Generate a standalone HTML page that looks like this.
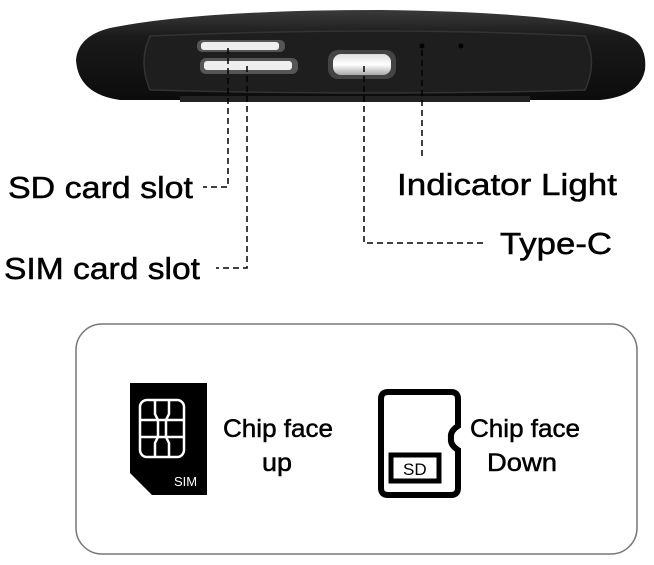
<!DOCTYPE html>
<html><head><meta charset="utf-8"><style>
html,body{margin:0;padding:0;background:#fff;}
svg{display:block;}
text{font-family:"Liberation Sans",sans-serif;fill:#000;stroke:#000;stroke-width:0.5;}
</style></head><body>
<svg width="654" height="565" viewBox="0 0 654 565" xmlns="http://www.w3.org/2000/svg">
<defs>
<linearGradient id="body" x1="0" y1="0" x2="0" y2="1">
<stop offset="0" stop-color="#3a3a3a"/><stop offset="0.3" stop-color="#1a1a1a"/><stop offset="1" stop-color="#0c0c0c"/>
</linearGradient>
<linearGradient id="usb" x1="0" y1="0" x2="0" y2="1">
<stop offset="0" stop-color="#ddd"/><stop offset="0.5" stop-color="#fff"/><stop offset="1" stop-color="#aaa"/>
</linearGradient>
</defs>
<path d="M120 100 L600 100 Q640 96 645 70 Q648 40 620 32 Q560 12 380 10 Q200 10 110 28 Q78 36 76 60 Q78 94 120 100 Z" fill="url(#body)"/>
<rect x="180" y="96" width="350" height="6" fill="#222"/>
<path d="M150 36 Q380 26 585 36 Q598 62 585 90 Q380 96 150 90 Q138 62 150 36 Z" fill="#1e1e1e" stroke="#333" stroke-width="1.5"/>
<rect x="197" y="40" width="88" height="12" rx="5" fill="#555"/>
<rect x="201" y="42" width="78" height="8" rx="3" fill="#eee"/>
<rect x="200" y="58" width="98" height="16" rx="6" fill="#555"/>
<rect x="204" y="61" width="88" height="9" rx="3" fill="#eee"/>
<rect x="328" y="50" width="68" height="29" rx="10" fill="#444"/>
<rect x="333" y="54" width="58" height="21" rx="8" fill="url(#usb)"/>
<circle cx="422" cy="46" r="2.5" fill="#000"/>
<circle cx="461" cy="46" r="2.5" fill="#000"/>
<g stroke="#000" stroke-width="1.5" stroke-dasharray="6,4" fill="none">
<path d="M228 48 V187 H203"/>
<path d="M247 66 V268 H216"/>
<path d="M364 66 V243 H487"/>
<path d="M422 50 V160"/>
</g>
<g font-size="31">
<text x="8" y="198" textLength="185" lengthAdjust="spacingAndGlyphs">SD card slot</text>
<text x="4" y="279" textLength="196" lengthAdjust="spacingAndGlyphs">SIM card slot</text>
<text x="397" y="195" textLength="220" lengthAdjust="spacingAndGlyphs">Indicator Light</text>
<text x="500" y="254" textLength="112" lengthAdjust="spacingAndGlyphs">Type-C</text>
</g>
<rect x="76" y="324" width="561" height="230" rx="26" fill="none" stroke="#777" stroke-width="1.5"/>
<path d="M130 383 H207 V495 H152 L130 473 Z" fill="#000"/>
<g fill="none" stroke="#fff" stroke-width="2.5">
<rect x="140" y="400" width="44" height="57" rx="7"/>
<path d="M155 400 V414 L158 420 H166 L169 414 V400 M155 457 V443 L158 437 H166 L169 443 V457 M140 420 H158 M166 420 H184 M140 437 H158 M166 437 H184 M158 420 V437 M166 420 V437"/>
</g>
<text x="174" y="486" font-size="13" style="fill:#fff;stroke:none">SIM</text>
<path d="M388 392 H451 Q458 392 458 399 V426 Q450 431 451 438 Q450 445 458 450 V488 Q458 495 451 495 H388 Q381 495 381 488 V399 Q381 392 388 392 Z" fill="none" stroke="#000" stroke-width="6"/>
<rect x="391" y="455" width="48" height="26" fill="none" stroke="#000" stroke-width="5"/>
<text x="403" y="475" font-size="17" style="stroke:none">SD</text>
<g font-size="25">
<text x="223" y="437" textLength="110" lengthAdjust="spacingAndGlyphs">Chip face</text>
<text x="262" y="471" textLength="30" lengthAdjust="spacingAndGlyphs">up</text>
<text x="470" y="437" textLength="110" lengthAdjust="spacingAndGlyphs">Chip face</text>
<text x="487" y="471" textLength="70" lengthAdjust="spacingAndGlyphs">Down</text>
</g>
</svg>
</body></html>
